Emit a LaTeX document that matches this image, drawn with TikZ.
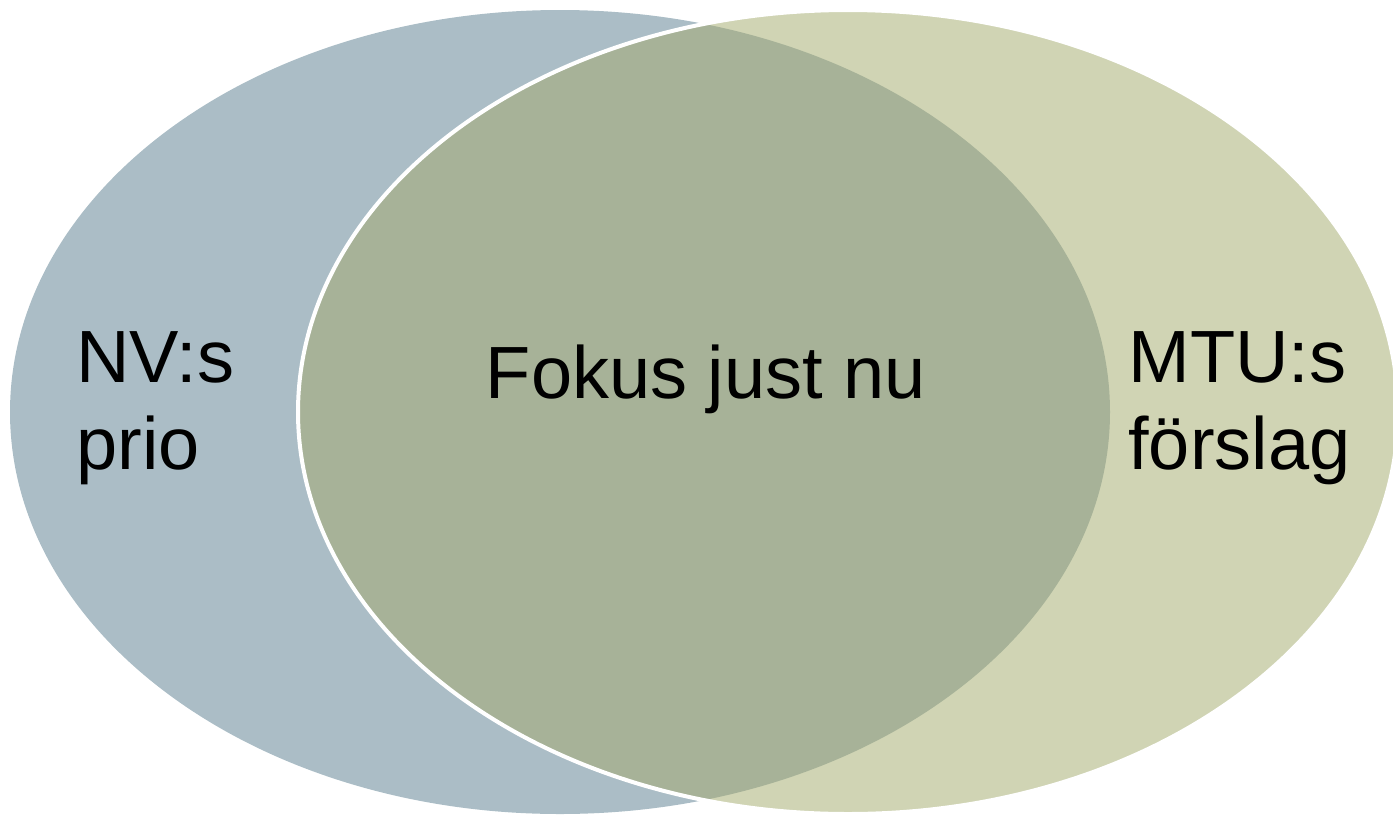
\documentclass[tikz,border=0pt]{standalone}
\usepackage{fontspec}
\setmainfont{Liberation Sans}
\usetikzlibrary{positioning}
\definecolor{nvcolor}{RGB}{171, 189, 198}
\definecolor{mtucolor}{RGB}{208, 212, 180}
\definecolor{fokuscolor}{RGB}{167, 178, 152}

\begin{document}
\begin{tikzpicture}[x=0.5pt, y=-0.5pt,
    label/.style={inner sep=0pt, font=\fontsize{37}{43.5}\selectfont, text=black},
    edge/.style={draw=white, line width=2pt}
]

\useasboundingbox (0,0) rectangle (1393,815);
\clip (0,0) rectangle (1393,815);

% Centres
\coordinate (nv) at (560,412);
\coordinate (mtu) at (848,412);

% Left ellipse
\fill[nvcolor] (nv) ellipse [x radius=550, y radius=402];

% Right ellipse
\fill[mtucolor] (mtu) ellipse [x radius=550, y radius=402];

% Overlap
\begin{scope}
    \clip (nv) ellipse [x radius=550, y radius=402];
    \fill[fokuscolor] (mtu) ellipse [x radius=550, y radius=402];
\end{scope}
\draw[edge] (mtu) ellipse [x radius=550, y radius=402];

% Labels
\node[label, align=left, anchor=west] (nvtext) at (76,408) {NV:s\\prio};
\node[label, anchor=base] (fokus) at (706,398) {Fokus just nu};
\node[label, align=left, anchor=west] (mtutext) at (1128,408) {MTU:s\\förslag};

\end{tikzpicture}
\end{document}
